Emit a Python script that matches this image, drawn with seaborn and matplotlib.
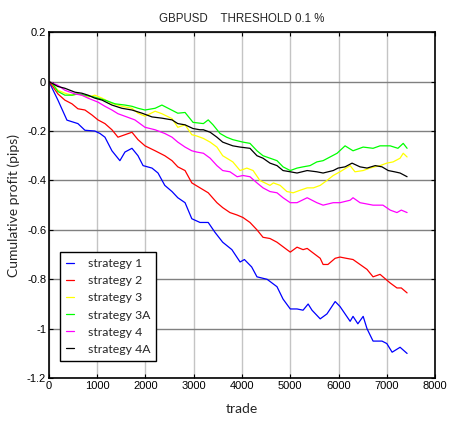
import numpy as np
import pandas as pd
import matplotlib
matplotlib.use("Agg")
import matplotlib.pyplot as plt
import seaborn as sns

title = "GBPUSD    THRESHOLD 0.1 %"
labels = ["strategy 1", "strategy 2", "strategy 3", "strategy 3A", "strategy 4", "strategy 4A"]
colors = ["#0000FF", "#FF0000", "#FFFF00", "#00FF00", "#FF00FF", "#000000"]

t1 = [0,186,373,600,746,950,1057,1160,1305,1470,1575,1720,1845,1950,2135,2260,2400,2550,2670,2820,2960,3130,3300,3440,3600,3790,3960,4050,4200,4310,4520,4725,4850,5000,5140,5265,5370,5450,5620,5760,5930,6030,6135,6240,6300,6400,6510,6590,6715,6900,7000,7110,7275,7420]
v1 = [0,-0.075,-0.156,-0.17,-0.197,-0.20,-0.21,-0.225,-0.28,-0.32,-0.285,-0.27,-0.30,-0.34,-0.35,-0.37,-0.42,-0.445,-0.47,-0.49,-0.555,-0.57,-0.57,-0.61,-0.65,-0.68,-0.73,-0.72,-0.75,-0.79,-0.80,-0.83,-0.88,-0.92,-0.92,-0.925,-0.90,-0.925,-0.96,-0.94,-0.89,-0.91,-0.94,-0.97,-0.95,-0.98,-0.95,-1.0,-1.05,-1.05,-1.06,-1.095,-1.075,-1.10]

t2 = [0,80,186,330,477,600,746,890,1015,1160,1305,1430,1575,1720,1845,1990,2200,2400,2550,2670,2820,2960,3130,3300,3480,3600,3750,3900,4020,4165,4310,4435,4580,4725,4930,5000,5140,5265,5350,5450,5620,5680,5780,5930,6030,6160,6300,6445,6590,6715,6860,6950,7070,7210,7300,7420]
v2 = [0,-0.02,-0.05,-0.075,-0.09,-0.11,-0.115,-0.135,-0.155,-0.17,-0.195,-0.225,-0.215,-0.205,-0.235,-0.26,-0.28,-0.30,-0.32,-0.345,-0.36,-0.41,-0.43,-0.45,-0.49,-0.51,-0.53,-0.54,-0.55,-0.57,-0.60,-0.63,-0.635,-0.65,-0.68,-0.69,-0.67,-0.68,-0.675,-0.69,-0.715,-0.74,-0.74,-0.715,-0.71,-0.715,-0.72,-0.74,-0.76,-0.79,-0.78,-0.795,-0.815,-0.835,-0.835,-0.855]

t3 = [0,60,186,330,477,600,810,950,1100,1305,1510,1720,1845,1990,2200,2340,2550,2670,2820,2960,3060,3200,3340,3480,3600,3810,3960,4100,4230,4370,4580,4650,4790,4930,5060,5200,5350,5480,5620,5760,5890,6030,6240,6340,6510,6650,6860,7000,7130,7275,7340,7420]
v3 = [0,-0.005,-0.035,-0.047,-0.055,-0.05,-0.063,-0.055,-0.067,-0.088,-0.10,-0.108,-0.128,-0.14,-0.12,-0.13,-0.15,-0.185,-0.175,-0.215,-0.22,-0.23,-0.245,-0.265,-0.30,-0.325,-0.36,-0.35,-0.36,-0.40,-0.42,-0.41,-0.42,-0.445,-0.45,-0.44,-0.43,-0.43,-0.42,-0.40,-0.38,-0.365,-0.34,-0.365,-0.36,-0.35,-0.34,-0.33,-0.325,-0.31,-0.29,-0.305]

t3a = [0,60,186,330,477,600,746,950,1160,1370,1575,1720,1845,1990,2200,2340,2470,2670,2820,2985,3200,3300,3400,3545,3680,3810,4020,4165,4310,4435,4580,4725,4850,5000,5140,5265,5410,5550,5680,5825,5970,6135,6300,6510,6715,6860,7070,7230,7340,7420]
v3a = [0,-0.005,-0.04,-0.055,-0.055,-0.05,-0.055,-0.063,-0.075,-0.09,-0.095,-0.10,-0.108,-0.115,-0.108,-0.095,-0.108,-0.128,-0.125,-0.165,-0.17,-0.155,-0.175,-0.21,-0.225,-0.235,-0.245,-0.25,-0.28,-0.30,-0.31,-0.32,-0.345,-0.36,-0.35,-0.345,-0.34,-0.325,-0.32,-0.305,-0.29,-0.26,-0.28,-0.265,-0.27,-0.26,-0.26,-0.27,-0.25,-0.27]

t4 = [0,186,330,540,680,810,1015,1160,1305,1430,1640,1780,1990,2200,2400,2550,2670,2820,2960,3060,3200,3340,3480,3600,3750,3900,4020,4165,4310,4435,4580,4725,4850,5000,5140,5350,5550,5680,5890,6030,6240,6300,6445,6715,6920,7070,7210,7300,7420]
v4 = [0,-0.015,-0.035,-0.05,-0.055,-0.067,-0.083,-0.10,-0.115,-0.13,-0.145,-0.155,-0.185,-0.195,-0.21,-0.225,-0.245,-0.265,-0.28,-0.285,-0.29,-0.31,-0.34,-0.36,-0.365,-0.385,-0.38,-0.385,-0.41,-0.43,-0.445,-0.45,-0.47,-0.49,-0.49,-0.47,-0.49,-0.50,-0.49,-0.49,-0.48,-0.47,-0.49,-0.50,-0.50,-0.52,-0.53,-0.52,-0.53]

t4a = [0,186,330,540,680,810,950,1100,1305,1510,1720,1930,2135,2340,2550,2670,2820,2985,3130,3200,3340,3480,3600,3810,3960,4165,4310,4435,4580,4725,4850,5000,5140,5350,5550,5680,5890,5990,6135,6280,6445,6590,6760,6900,7030,7160,7275,7420]
v4a = [0,-0.02,-0.027,-0.043,-0.047,-0.055,-0.067,-0.075,-0.095,-0.108,-0.115,-0.128,-0.143,-0.148,-0.155,-0.17,-0.175,-0.19,-0.195,-0.195,-0.205,-0.225,-0.245,-0.26,-0.265,-0.27,-0.30,-0.31,-0.33,-0.34,-0.36,-0.365,-0.37,-0.36,-0.365,-0.37,-0.36,-0.35,-0.345,-0.33,-0.345,-0.35,-0.34,-0.345,-0.36,-0.365,-0.37,-0.385]

x_ticks = [0, 1000, 2000, 3000, 4000, 5000, 6000, 7000, 8000]
y_ticks = [0.2, 0, -0.2, -0.4, -0.6, -0.8, -1, -1.2]
y_ticklabels = ["0.2", "0", "-0.2", "-0.4", "-0.6", "-0.8", "-1", "-1.2"]

series_t = [t1, t2, t3, t3a, t4, t4a]
series_v = [v1, v2, v3, v3a, v4, v4a]
frames = []
for lab, t, v in zip(labels, series_t, series_v):
    frames.append(pd.DataFrame({"trade": t, "profit": v, "strategy": lab}))
df = pd.concat(frames, ignore_index=True)

sns.set_style("white")
plt.rcParams['font.family'] = ['Liberation Sans', 'DejaVu Sans']

fig = plt.figure(figsize=(4.49, 4.23), dpi=100)
ax = fig.add_axes([0.109, 0.106, 0.860, 0.818])

sns.lineplot(data=df, x="trade", y="profit", hue="strategy", hue_order=labels,
             palette=colors, linewidth=0.9, ax=ax, legend=False, sort=False,
             estimator=None)

ax.set_xlim(0, 8000)
ax.set_ylim(-1.2, 0.2)
ax.set_xticks(x_ticks)
ax.set_xticklabels([str(x) for x in x_ticks], fontsize=8)
ax.set_yticks(y_ticks)
ax.set_yticklabels(y_ticklabels, fontsize=8)
ax.tick_params(direction='in', length=3, width=0.8, top=True, right=True,
               bottom=True, left=True, colors='black', pad=2)
ax.xaxis.grid(True, color='#c4c4c4', linewidth=1.0)
ax.yaxis.grid(True, color='#808080', linewidth=1.0)
ax.set_axisbelow(True)
for s in ax.spines.values():
    s.set_visible(True)
    s.set_color('black')
    s.set_linewidth(1.2)

ax.set_title(title, fontsize=8.3, pad=7)
ax.set_xlabel("trade", fontsize=10, family=['Lato', 'DejaVu Sans'], labelpad=9)
ax.set_ylabel("Cumulative profit (pips)", fontsize=10, family=['Lato', 'DejaVu Sans'], labelpad=5)

handles = [plt.Line2D([], [], color=c, linewidth=0.9) for c in colors]
leg = ax.legend(handles, labels, loc='lower left', bbox_to_anchor=(0.028, 0.05),
                prop={'family': ['Lato', 'DejaVu Sans'], 'size': 8.8},
                handlelength=0.7, handletextpad=1.1, labelspacing=0.5,
                borderpad=0.5, fancybox=False, framealpha=1, edgecolor='black',
                borderaxespad=0)
leg.get_frame().set_linewidth(1.0)

fig.savefig("out.png", dpi=100)
